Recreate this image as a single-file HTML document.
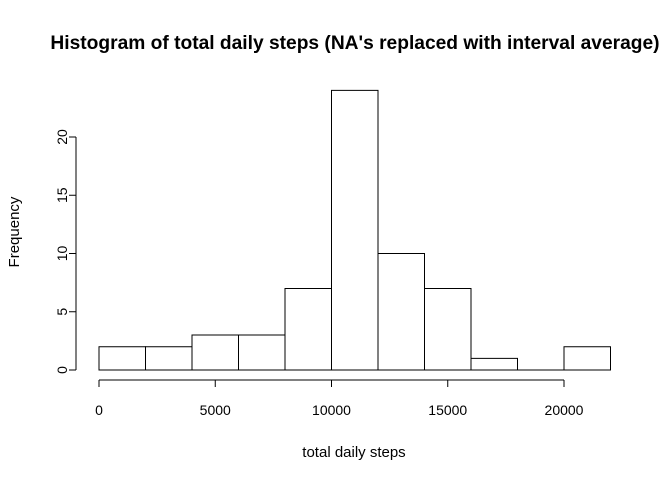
<!DOCTYPE html>
<html><head><meta charset="utf-8"><style>
body{margin:0;background:#fff}
svg text{font-family:"Liberation Sans",Arial,sans-serif;fill:#000}
</style></head><body>
<svg width="672" height="480" id="c">
<text x="355" y="49" text-anchor="middle" font-size="19.2" font-weight="bold">Histogram of total daily steps (NA's replaced with interval average)</text>
<text x="354" y="457" text-anchor="middle" font-size="15">total daily steps</text>
<text transform="translate(19,232) rotate(-90)" text-anchor="middle" font-size="15">Frequency</text>
<g id="bars"></g><g id="xaxis"></g><g id="yaxis"></g>
</svg>
<script>
const binStarts=[0,2000,4000,6000,8000,10000,12000,14000,16000,18000,20000];
const binWidth=2000;
const counts=[2,2,3,3,7,24,10,7,1,0,2];
const xTicks=[0,5000,10000,15000,20000];
const yTicks=[0,5,10,15,20];
const ns="http://www.w3.org/2000/svg";
const xs=v=>99+v*(465/20000);
const ys=v=>370-v*(233/20);
function mk(t,a,p){const e=document.createElementNS(ns,t);for(const k in a)e.setAttribute(k,a[k]);p.appendChild(e);return e;}
const bars=document.getElementById('bars');
counts.forEach((c,i)=>{
  const x0=xs(binStarts[i]),x1=xs(binStarts[i]+binWidth),y0=ys(0),y1=ys(c);
  const r=mk('path',{d:`M${x0},${y0}L${x0},${y1}L${x1},${y1}L${x1},${y0}Z`,fill:'none',stroke:'#000','stroke-width':1},bars);
  
  
});
const xa=document.getElementById('xaxis');


mk('line',{x1:xs(xTicks[0]),x2:xs(xTicks[xTicks.length-1]),y1:380,y2:380,stroke:'#000'},xa);
xTicks.forEach(t=>{
  mk('line',{x1:xs(t),x2:xs(t),y1:380,y2:387,stroke:'#000'},xa);
  const l=mk('text',{x:xs(t),y:415,'text-anchor':'middle','font-size':14},xa);l.textContent=t;
  
  
});
const ya=document.getElementById('yaxis');


mk('line',{x1:76,x2:76,y1:ys(yTicks[0]),y2:ys(yTicks[yTicks.length-1]),stroke:'#000'},ya);
yTicks.forEach(t=>{
  mk('line',{x1:69,x2:76,y1:ys(t),y2:ys(t),stroke:'#000'},ya);
  const l=mk('text',{transform:`translate(67,${ys(t)}) rotate(-90)`,'text-anchor':'middle','font-size':14},ya);l.textContent=t;
  
  
});
</script>
</body></html>
